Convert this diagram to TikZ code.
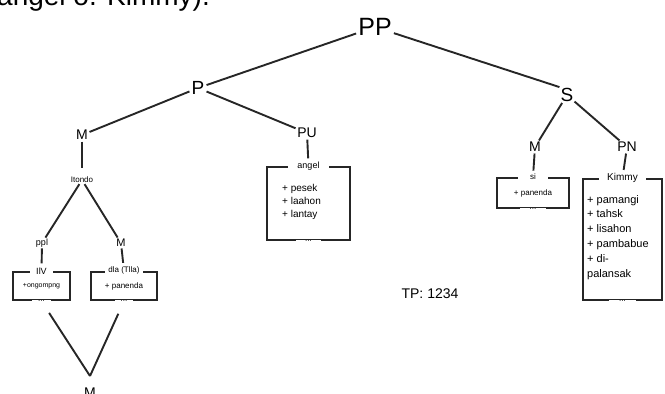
\documentclass[tikz,border=0pt]{standalone}
\usepackage{fontspec}
\setmainfont{Liberation Sans}
\newcommand{\fsz}[1]{\fontsize{#1}{#1}\selectfont}
\begin{document}
\begin{tikzpicture}[x=1pt,y=-1pt,
  tree/.style={line width=1.9pt, draw=black!85},
  frame/.style={draw=black!85, line width=2.4pt, inner sep=0pt},
  gap/.style={fill=white, inner sep=0pt, inner xsep=6pt, inner ysep=1pt, font=\fsz{8}},
  cat/.style={inner sep=1.5pt, font=\fsz{14}},
  tiny/.style={inner sep=1pt, font=\fsz{8}},
  items/.style={align=left, inner sep=0pt},
]
\useasboundingbox (0,0) rectangle (665,394);
\clip (0,0) rectangle (665,394);

% running text at the head of the page
\node[font=\fsz{28}, anchor=base west, inner sep=0pt] (head) at (-3,5) {angel o. Kimmy).};

% tree categories
\node[font=\fsz{25}, inner sep=2pt] (PP) at (375,27) {PP};
\node[font=\fsz{19}, inner sep=2pt] (P) at (198,88) {P};
\node[font=\fsz{19}, inner sep=1pt] (S) at (567,95) {S};
\node[cat] (M1) at (82,135) {M};
\node[cat] (PU) at (307,133) {PU};
\node[cat] (M3) at (535,147) {M};
\node[cat] (PN) at (627,147) {PN};
\node[tiny] (itondo) at (82,180) {Itondo};
\node[tiny, font=\fsz{9}] (ppl) at (42,243) {ppl};
\node[cat, font=\fsz{11}] (M2) at (121,243) {M};
\node[cat] (M4) at (90,393) {M};
\coordinate (join) at (90,376);

% frames
\node[frame, minimum width=57, minimum height=28] (lbox) at (41.5,286) {};
\node[gap, font=\fsz{9}] (ltop) at (lbox.north) {IlV};
\node[gap] (lbot) at (lbox.south) {...};
\node[font=\fsz{7}, inner sep=0pt] (lin) at (lbox.center) {+ongompng};

\node[frame, minimum width=66, minimum height=28] (rbox) at (124,286) {};
\node[gap, inner xsep=3pt] (rtop) at (rbox.north) {dla (Tlla)};
\node[gap] (rbot) at (rbox.south) {...};
\node[font=\fsz{8}, inner sep=0pt] (rin) at (rbox.center) {+ panenda};

\node[frame, minimum width=83, minimum height=73] (pubox) at (308.5,203.5) {};
\node[gap, font=\fsz{9}, inner xsep=9pt] (putop) at (pubox.north) {angel};
\node[gap, inner xsep=9pt] (pubot) at (pubox.south) {...};
\node[items, font=\fontsize{10}{13}\selectfont, anchor=north west] (puin) at (282,184) {+ pesek\\+ laahon\\+ lantay};

\node[frame, minimum width=72, minimum height=30] (mbox) at (533,193) {};
\node[gap, inner xsep=12pt] (mtop) at (mbox.north) {si};
\node[gap, inner xsep=10pt] (mbot) at (mbox.south) {...};
\node[font=\fsz{8}, inner sep=0pt] (min) at (mbox.center) {+ panenda};

\node[frame, minimum width=79, minimum height=121] (pnbox) at (622.5,239.5) {};
\node[gap, font=\fsz{10}, inner xsep=8pt] (pntop) at (pnbox.north) {Kimmy};
\node[gap, inner xsep=10pt] (pnbot) at (pnbox.south) {...};
\node[items, font=\fontsize{11}{14.8}\selectfont, anchor=north west] (pnin) at (587,195)
  {+ pamangi\\+ tahsk\\+ lisahon\\+ pambabue\\+ di-\\palansak};

% page number
\node[font=\fsz{14}] (tp) at (430,294) {TP: 1234};

% branches
\draw[tree] (P) -- (PP);
\draw[tree] (PP) -- (S.north west);
\draw[tree] (P) -- (M1);
\draw[tree] (P) -- (PU);
\draw[tree] (S) -- (M3);
\draw[tree] (S) -- (PN);
\draw[tree, shorten >=8pt] (M1) -- (itondo);
\draw[tree] (itondo) -- (ppl);
\draw[tree] (itondo) -- (M2);
\draw[tree, shorten >=3pt] (ppl) -- (ltop);
\draw[tree, shorten >=3pt] (M2) -- (rtop);
\draw[tree, shorten >=2pt] (PU) -- (putop);
\draw[tree, shorten >=2pt] (M3) -- (mtop);
\draw[tree, shorten >=2pt] (PN) -- (pntop);
\draw[tree, shorten <=12pt] (lbot) -- (join);
\draw[tree, shorten <=12pt] (rbot) -- (join);
\end{tikzpicture}
\end{document}
